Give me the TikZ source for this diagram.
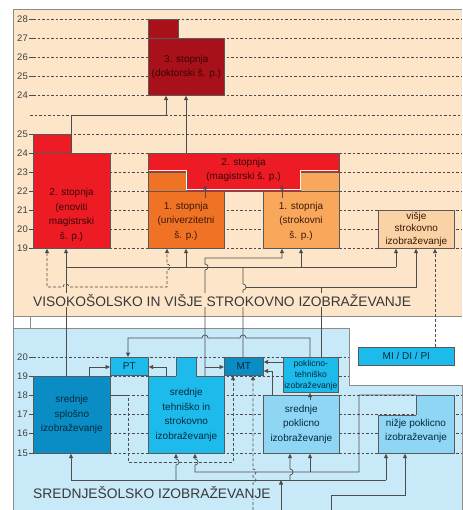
\documentclass[tikz,border=0pt]{standalone}
\usepackage{fontspec}
\setmainfont{Liberation Sans}
\usetikzlibrary{arrows.meta}

\definecolor{peach}{HTML}{FDE5C9}
\definecolor{skyback}{HTML}{C8E9F8}
\definecolor{docred}{HTML}{A8101A}
\definecolor{redmain}{HTML}{ED1C24}
\definecolor{univor}{HTML}{F07224}
\definecolor{strokor}{HTML}{F9A75B}
\definecolor{visjecol}{HTML}{FBD1A6}
\definecolor{bluedeep}{HTML}{0A8DC4}
\definecolor{bluemid}{HTML}{1DBAEC}
\definecolor{bluepale}{HTML}{8ED6F4}
\definecolor{linegray}{HTML}{4D4D4D}
\definecolor{inkred}{HTML}{3A0406}
\definecolor{inkorange}{HTML}{3A1A06}
\definecolor{inkblue}{HTML}{042A3D}

\tikzset{
  gridline/.style={draw=black!70, line width=0.55pt, dash pattern=on 2.6pt off 1.9pt},
  tickline/.style={draw=black!70, line width=0.55pt},
  numlab/.style={anchor=east, inner sep=0.5pt, text=black!75, font=\fontsize{9.5}{10}\selectfont},
  region/.style={draw=black!45, line width=0.6pt},
  edu/.style={rectangle, draw=black!65, line width=0.7pt, inner sep=0pt, anchor=north west,
    align=center, font=\fontsize{10}{14.5}\selectfont},
  rim/.style={draw=black!65, line width=0.7pt},
  seam/.style={draw=white!75!peach, line width=0.9pt},
  boxtext/.style={inner sep=0pt, align=center, font=\fontsize{10}{14.5}\selectfont},
  heading/.style={anchor=base west, inner sep=1pt, text=black!78, font=\fontsize{13.8}{16}\selectfont},
  link/.style={draw=linegray, line width=0.7pt},
  arr/.style={link, -{Triangle[length=4.5pt,width=4pt]}},
  darr/.style={arr, dash pattern=on 3pt off 2pt},
  ddarr/.style={link, dash pattern=on 3pt off 2pt, {Triangle[length=4.5pt,width=4pt]}-{Triangle[length=4.5pt,width=4pt]}}
}

\begin{document}
\begin{tikzpicture}[x=1pt,y=-1pt]
\useasboundingbox (0,0) rectangle (462,510);

\fill[peach] (13,9) rectangle (462,316);
\draw[region] (462,9) -- (13,9) -- (13,316) -- (462,316);
\draw[region, fill=white] (13,316) rectangle (30,328);
\filldraw[region, fill=skyback] (13,328) -- (349,328) -- (349,385) -- (462,385) -- (462,510) -- (13,510) -- cycle;

\foreach \y/\n in {19/28,38/27,57/26,76/25,95/24,134/25,153/24,172/23,191/22,210/21,229/20,248/19}{
  \draw[tickline] (29,\y) -- (33,\y);
  \draw[gridline] (33,\y) -- (462,\y);
  \node[numlab] (up\y) at (28.5,\y) {\n};
}
\draw[gridline] (30,115) -- (462,115);
\foreach \y/\n/\e in {357/20/349,376/19/349,395/18/462,414/17/462,433/16/462,453/15/462}{
  \draw[tickline] (29,\y) -- (33,\y);
  \draw[gridline] (33,\y) -- (\e,\y);
  \node[numlab] (low\y) at (28.5,\y) {\n};
}

\node[edu, fill=docred, minimum width=76pt, minimum height=57pt] (dokt) at (148,38) {};
\fill[docred] (148,19) rectangle (178,38.5);
\draw[rim] (148,38.5) |- (178,19) -- (178,38);
\node[boxtext, text=inkred] (dokttext) at (dokt.center) {3. stopnja\\(doktorski š. p.)};

\node[edu, fill=redmain, minimum width=77pt, minimum height=95pt] (enov) at (33,153) {};
\fill[redmain] (33,134) rectangle (71,153.5);
\draw[rim] (33,153.5) |- (71,134) -- (71,153);
\node[boxtext, text=inkred] (enovtext) at (71.5,215) {2. stopnja\\(enoviti\\magistrski\\š. p.)};

\node[edu, fill=redmain, minimum width=191pt, minimum height=19pt] (mag) at (148,153) {};
\fill[redmain] (187,171.5) rectangle (300,191);
\draw[rim] (187,172) |- (300,191) -- (300,172);

\node[edu, fill=univor, minimum width=76pt, minimum height=57pt] (univ) at (148,191) {};
\fill[univor] (148,172) rectangle (187,191.5);
\draw[rim] (148,191.5) |- (187,172) -- (187,191);

\node[edu, fill=strokor, minimum width=76pt, minimum height=57pt] (strok) at (263,191) {};
\fill[strokor] (300,172) rectangle (339,191.5);
\draw[rim] (300,191) |- (339,172) -- (339,191.5);

\draw[seam] (148.8,170.8) -- (186.2,170.8) -- (186.2,189.8) -- (300.8,189.8) -- (300.8,170.8) -- (338.2,170.8);
\node[boxtext, text=inkred] (magtext) at (243.5,170) {2. stopnja\\(magistrski š. p.)};
\node[boxtext, text=inkorange] (univtext) at (186,221) {1. stopnja\\(univerzitetni\\š. p.)};
\node[boxtext, text=inkorange] (stroktext) at (301,221) {1. stopnja\\(strokovni\\š. p.)};

\node[edu, fill=visjecol, text=inkorange, minimum width=76pt, minimum height=38pt, font=\fontsize{10}{12.5}\selectfont] (visje) at (378,210) {višje\\strokovno\\izobraževanje};

\node[edu, fill=bluedeep, text=inkblue, minimum width=77pt, minimum height=77pt] (splos) at (33,376) {srednje\\splošno\\izobraževanje};
\node[edu, fill=bluemid, text=inkblue, minimum width=38pt, minimum height=18pt] (pt) at (110,357) {PT};
\node[edu, fill=bluemid, minimum width=76pt, minimum height=77pt] (teh) at (148,376) {};
\fill[bluemid] (176,357) rectangle (196,376.5);
\draw[rim] (176,376) |- (196,357) -- (196,376);
\node[boxtext, text=inkblue] (tehtext) at (teh.center) {srednje\\tehniško in\\strokovno\\izobraževanje};
\node[edu, fill=bluedeep, text=inkblue, minimum width=39pt, minimum height=18pt] (mt) at (224,357) {MT};
\node[edu, fill=bluemid, text=inkblue, minimum width=55pt, minimum height=35pt, font=\fontsize{8.6}{11}\selectfont] (pokteh) at (283,357) {poklicno-\\tehniško\\izobraževanje};
\node[edu, fill=bluepale, text=inkblue, minimum width=76pt, minimum height=58pt] (sredpok) at (263,395) {srednje\\poklicno\\izobraževanje};
\node[edu, fill=bluepale, minimum width=76pt, minimum height=38pt] (nizje) at (378,415) {};
\fill[bluepale] (416,395) rectangle (454,415.5);
\draw[rim] (416,415) |- (454,395) -- (454,416);
\node[boxtext, text=inkblue] (nizjetext) at (416,431) {nižje poklicno\\izobraževanje};
\node[edu, fill=bluemid, text=inkblue, minimum width=96pt, minimum height=18pt] (midipi) at (358,347) {MI / DI / PI};

\coordinate (nizjetab) at (416,395);
\coordinate (entryA) at (253,510);
\coordinate (entryB) at (281,510);
\coordinate (entryC) at (331,510);

\draw[arr] (71,0 |- enov.north) -- (71,115) -| (166,0 |- dokt.south);
\draw[arr] (186,0 |- mag.north) -- (186,0 |- dokt.south);
\draw[arr] (205,198) -- (205,185);
\draw[arr] (282,198) -- (282,185);

\draw[arr] (66,0 |- splos.north) -- (66,0 |- enov.south);
\draw[link] (66,267) -- (396,267);
\draw[arr] (186,267) -- (186,0 |- univ.south);
\draw[arr] (301,267) -- (301,0 |- strok.south);
\draw[arr] (396,267) -- (396,0 |- visje.south);
\draw[link] (243,0 |- mt.north) -- (243,290) arc[start angle=-90,end angle=90,radius=3pt] -- (243,267);
\draw[ddarr] (47,0 |- enov.south) -- (47,287) -- (63,287) arc[start angle=180,end angle=0,radius=3pt] -- (167,287)
  -- (167,270) arc[start angle=-90,end angle=90,radius=3pt] -- (167,0 |- univ.south);

\draw[arr] (205,0 |- teh.north) -- (205,270) arc[start angle=-90,end angle=90,radius=3pt] -- (205,258) -| (282,0 |- strok.south);
\draw[arr] (205,367) -- (mt.west |- 0,367);
\draw[arr] (321,0 |- pokteh.north) -- (321,287) -| (416,0 |- visje.south);
\draw[link] (321,287) -- (246,287);
\draw[darr] (435,0 |- midipi.north) -- (435,0 |- visje.south);

\draw[arr] (310,0 |- pokteh.north) -- (310,338) -- (246,338) arc[start angle=0,end angle=180,radius=3pt]
  -- (208,338) arc[start angle=0,end angle=180,radius=3pt] -- (128,338) -- (128,0 |- pt.north);
\draw[arr] (89,0 |- splos.north) |- (pt.west |- 0,367);
\draw[arr] (166,0 |- teh.north) |- (pt.east |- 0,367);
\draw[arr] (pokteh.west |- 0,362) -- (mt.east |- 0,362);
\draw[arr] (272,0 |- sredpok.north) |- (mt.east |- 0,371);
\draw[arr] (310,400) -- (310,0 |- pokteh.south);

\draw[darr] (splos.east |- 0,395) -- (128,395) -- (128,462) -| (233,0 |- mt.south);
\draw[darr] (entryA) -- (253,483) arc[start angle=-90,end angle=90,radius=3pt] -- (253,475)
  arc[start angle=-90,end angle=90,radius=3pt] -- (253,0 |- mt.south);

\draw[arr] (entryB) -- (281,480);
\draw[link] (71,480) -- (386,480);
\draw[arr] (71,480) -- (71,0 |- splos.south);
\draw[arr] (176,480) -- (176,465) arc[start angle=-90,end angle=90,radius=3pt] -- (176,0 |- teh.south);
\draw[arr] (290,480) -- (290,475) arc[start angle=-90,end angle=90,radius=3pt] -- (290,0 |- sredpok.south);
\draw[arr] (386,480) -- (386,0 |- nizje.south);

\draw[arr] (nizjetab) -- (359,395) -- (359,472) -- (195,472) -- (195,465)
  arc[start angle=-90,end angle=90,radius=3pt] -- (195,0 |- teh.south);
\draw[arr] (310,472) -- (310,0 |- sredpok.south);
\draw[arr] (entryC) |- (405,495) -- (405,0 |- nizje.south);

\node[heading, fill=peach] (visoko) at (32,306) {VISOKOŠOLSKO IN VIŠJE STROKOVNO IZOBRAŽEVANJE};
\node[heading, fill=skyback] (srednje) at (32,498) {SREDNJEŠOLSKO IZOBRAŽEVANJE};
\end{tikzpicture}
\end{document}
